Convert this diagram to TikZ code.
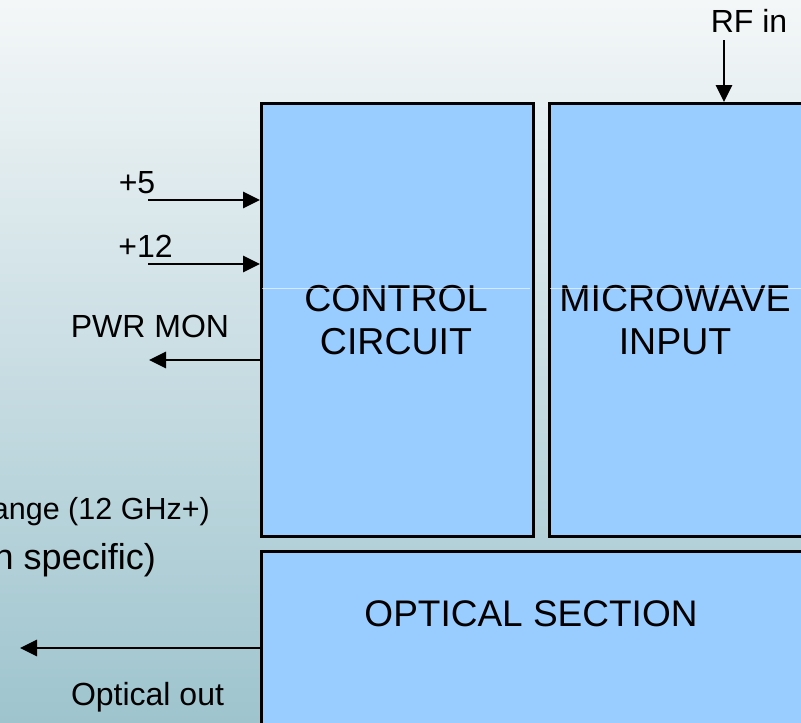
\documentclass[tikz,border=0pt]{standalone}
\usepackage{fontspec}
\setmainfont{Liberation Sans}
\usetikzlibrary{arrows.meta}
\definecolor{boxblue}{HTML}{99CCFF}
\definecolor{bgtop}{HTML}{F4F7F8}
\definecolor{bgmid}{HTML}{D6E6EA}
\definecolor{bgbot}{HTML}{9EC4CE}
\tikzset{
  blockbox/.style={draw=black, line width=3pt, fill=boxblue, inner sep=0pt, anchor=north west},
  sig/.style={line width=2.8pt, -{Triangle[length=17pt,width=16pt]}},
  small/.style={font=\fontsize{32}{38}\selectfont, inner sep=0pt, anchor=base},
  big/.style={font=\fontsize{37.5}{43}\selectfont, align=center, inner sep=0pt},
  glare/.style={draw=white, opacity=0.6, line width=1pt}
}
\begin{document}
\begin{tikzpicture}[x=1pt,y=-1pt]
\useasboundingbox (0,0) rectangle (801,723);
\clip (0,0) rectangle (801,723);
\shade[top color=bgtop, middle color=bgmid, bottom color=bgbot] (0,0) rectangle (801,723);

% blocks
\node[blockbox, minimum width=272pt, minimum height=433pt, big] (ctrl) at (260,102) {};
\node[big] (ctrltext) at (396,320) {CONTROL\\CIRCUIT};
\node[blockbox, minimum width=254pt, minimum height=433pt] (mw) at (548,102) {};
\node[big] (mwtext) at (675,320) {MICROWAVE\\INPUT};
\node[blockbox, minimum width=542pt, minimum height=200pt] (opt) at (260,550) {};
\node[big, anchor=base, font=\fontsize{37}{43}\selectfont] (opttext) at (531,626) {OPTICAL SECTION};

% faint rendering line
\draw[glare] (262,288) -- (530,288);
\draw[glare] (550,288) -- (801,288);

% RF in
\node[small] (rflabel) at (749,32) {RF in};
\coordinate (rfstart) at (724,40);
\draw[sig] (rfstart) -- (rfstart |- mw.north);

% +5
\node[small] (p5label) at (137,193) {+5};
\coordinate (p5start) at (148,200);
\draw[sig] (p5start) -- (p5start -| ctrl.west);

% +12
\node[small] (p12label) at (145.5,257) {+12};
\coordinate (p12start) at (148,264);
\draw[sig] (p12start) -- (p12start -| ctrl.west);

% PWR MON
\node[small] (pwrlabel) at (150,337) {PWR MON};
\coordinate (pwrend) at (149,360);
\draw[sig] (pwrend -| ctrl.west) -- (pwrend);

% Optical out
\coordinate (optend) at (20,648);
\draw[sig] (optend -| opt.west) -- (optend);
\node[small] (optlabel) at (147.5,705) {Optical out};

% side texts, cut off by the left edge as in the reference
\node[small, anchor=base east, font=\fontsize{30.5}{36}\selectfont] (rangetext) at (210,519) {ange (12 GHz+)};
\node[font=\fontsize{36}{42}\selectfont, inner sep=0pt, anchor=base east] (spectext) at (156,569) {n specific)};
\end{tikzpicture}
\end{document}
